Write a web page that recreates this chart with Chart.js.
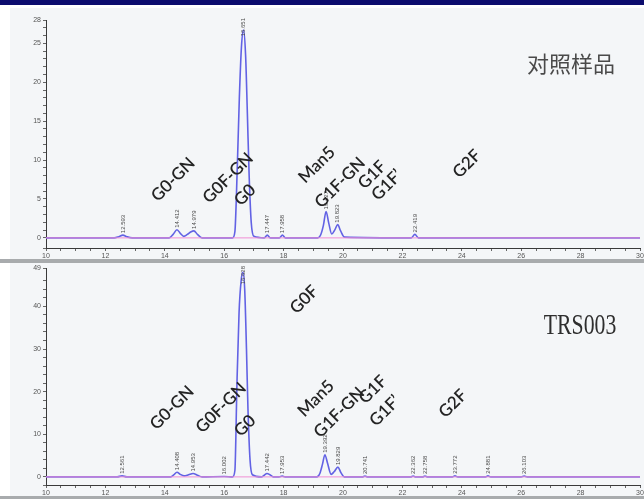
<!DOCTYPE html>
<html>
<head>
<meta charset="utf-8">
<script src="https://cdn.jsdelivr.net/npm/chart.js@4.4.1/dist/chart.umd.min.js"></script>
<style>
  html, body { margin: 0; padding: 0; background: #fff; }
  body { width: 644px; height: 499px; position: relative; overflow: hidden; }
  .bar { position: absolute; left: 0; top: 0; width: 644px; height: 5px; background: #0c0c6e; }
  .panel { position: absolute; left: 10px; width: 634px; background: #f4f6f8; }
  #p1 { top: 8px; height: 251px; }
  #p2 { top: 263px; height: 233px; }
  .rule { position: absolute; left: 0; width: 644px; background: #a8abad; }
  #r1 { top: 259px; height: 4px; }
  #r2 { top: 496px; height: 3px; }
  canvas { position: absolute; left: 0; }
  #topChart { top: 9px; }
  #botChart { top: 262px; }
</style>
</head>
<body>
<div class="bar"></div>
<div class="panel" id="p1"></div>
<div class="rule" id="r1"></div>
<div class="panel" id="p2"></div>
<div class="rule" id="r2"></div>
<canvas id="topChart" width="644" height="250"></canvas>
<canvas id="botChart" width="644" height="237"></canvas>
<script>
// retention time axis (min)
const timeMin = 10;
const timeMax = 30;

// top trace: reference sample
const topTime   = [10, 12.3, 12.45, 12.59, 12.72, 12.9, 14.15, 14.28, 14.41, 14.53, 14.64, 14.76, 14.87, 14.98, 15.1, 15.25,
                   16.28, 16.36, 16.44, 16.51, 16.58, 16.65, 16.72, 16.78, 16.84, 16.91, 17.0, 17.35, 17.45, 17.55, 17.86, 17.96, 18.06,
                   19.15, 19.25, 19.34, 19.43, 19.52, 19.62, 19.72, 19.82, 19.92, 20.05, 22.3, 22.42, 22.54, 30];
const topSignal = [0, 0, 0.15, 0.35, 0.15, 0, 0, 0.45, 1.05, 0.55, 0.2, 0.45, 0.75, 0.9, 0.45, 0,
                   0, 0.8, 9, 18, 24.5, 26.7, 23.5, 16, 8, 2, 0.2, 0, 0.35, 0, 0, 0.35, 0,
                   0, 0.4, 1.6, 3.4, 1.9, 0.5, 1.0, 1.7, 0.9, 0.1, 0, 0.45, 0, 0];
const topPeakTimes = [12.59, 14.41, 14.98, 16.65, 17.45, 17.96, 19.43, 19.82, 22.42];
const topPeakText  = ['12.593', '14.412', '14.979', '16.651', '17.447', '17.958', '19.427', '19.823', '22.419'];
const topGlycans = ['G0-GN', 'G0F-GN', 'G0', 'Man5', 'G1F-GN', 'G1F', 'G1F\u2019', 'G2F'];
const topGlycanT = [14.28, 16.13, 16.70, 19.12, 19.90, 20.98, 21.48, 24.17];
const topGlycanV = [7.5, 7.7, 5.5, 9.4, 7.1, 8.1, 6.8, 9.5];
const topYMin = -1.3, topYMax = 28;

// bottom trace: TRS003
const botTime   = [10, 12.4, 12.56, 12.72, 14.2, 14.3, 14.41, 14.52, 14.65, 14.8, 14.95, 15.1, 15.25, 16.0,
                   16.28, 16.36, 16.43, 16.5, 16.57, 16.63, 16.69, 16.75, 16.8, 16.87, 16.95,
                   17.25, 17.35, 17.44, 17.54, 17.65, 17.85, 17.95, 18.05,
                   19.12, 19.22, 19.31, 19.39, 19.48, 19.6, 19.7, 19.83, 19.93, 20.05,
                   20.65, 20.74, 20.83, 22.28, 22.36, 22.45, 22.68, 22.76, 22.85, 23.68, 23.77, 23.86,
                   24.8, 24.88, 24.97, 26.0, 26.1, 26.2, 30];
const botSignal = [0, 0, 0.25, 0, 0, 0.45, 1.1, 0.6, 0.25, 0.5, 0.8, 0.4, 0, 0.1,
                   0, 1.5, 22, 38.5, 46, 48, 44, 30, 16, 4, 0.5,
                   0, 0.4, 0.8, 0.5, 0, 0, 0.2, 0,
                   0, 0.8, 3, 5.2, 3.2, 0.6, 1.2, 2.3, 1.0, 0,
                   0, 0.2, 0, 0, 0.2, 0, 0, 0.2, 0, 0, 0.25, 0,
                   0, 0.25, 0, 0, 0.2, 0, 0];
const botPeakTimes = [12.56, 14.41, 14.95, 16.0, 16.63, 17.44, 17.95, 19.39, 19.83, 20.74, 22.36, 22.76, 23.77, 24.88, 26.1];
const botPeakText  = ['12.561', '14.408', '14.953', '16.002', '16.628', '17.442', '17.953', '19.392', '19.829',
                      '20.741', '22.362', '22.758', '23.772', '24.881', '26.103'];
const botGlycans = ['G0F', 'G0-GN', 'G0F-GN', 'G0', 'Man5', 'G1F-GN', 'G1F', 'G1F\u2019', 'G2F'];
const botGlycanT = [18.69, 14.24, 15.89, 16.70, 19.09, 19.87, 21.01, 21.41, 23.70];
const botGlycanV = [41.6, 16.2, 16.2, 12.0, 18.4, 15.1, 20.5, 15.5, 17.2];
const botYMin = -1.9, botYMax = 49;

// draws peak labels, glycan names and the sample title on top of the trace
const textPlugin = {
  id: 'chromText',
  afterDatasetsDraw(chart, args, o) {
    const { ctx, chartArea } = chart;
    const x = chart.scales.x, y = chart.scales.y;
    ctx.save();

    ctx.fillStyle = '#4a4a4a';
    ctx.font = '6px "Liberation Sans"';
    ctx.textAlign = 'left';
    ctx.textBaseline = 'middle';
    o.peakTimes.forEach((t, i) => {
      const k = o.times.indexOf(t);
      const h = k >= 0 ? o.signal[k] : 0;
      const w = ctx.measureText(o.peakText[i]).width;
      let py = y.getPixelForValue(h) - 2;
      if (py - w < chartArea.top - 2) py = chartArea.top - 2 + w;
      ctx.save();
      ctx.translate(x.getPixelForValue(t), py);
      ctx.rotate(-Math.PI / 2);
      ctx.fillText(o.peakText[i], 0, 0);
      ctx.restore();
    });

    ctx.fillStyle = '#242424';
    ctx.font = '600 17px Lato';
    ctx.textAlign = 'center';
    o.names.forEach((n, i) => {
      ctx.save();
      ctx.translate(x.getPixelForValue(o.nameT[i]), y.getPixelForValue(o.nameV[i]));
      ctx.rotate(-Math.PI / 4);
      ctx.fillText(n, 0, 0);
      ctx.restore();
    });

    ctx.fillStyle = o.titleColor;
    ctx.font = o.titleFont;
    ctx.save();
    ctx.translate(x.getPixelForValue(o.titleT), y.getPixelForValue(o.titleV));
    ctx.scale(o.titleScale, 1);
    ctx.fillText(o.title, 0, 0);
    ctx.restore();

    ctx.restore();
  }
};

function makeChart(id, d) {
  const evenLabel = v => (Math.abs(v % 2) < 1e-9 ? String(v) : '');
  return new Chart(document.getElementById(id), {
    type: 'line',
    data: {
      datasets: [
        // integration baseline, listed first so it sits on top
        {
          data: [{ x: timeMin, y: 0 }, { x: timeMax, y: 0 }],
          borderColor: '#f08ed4', borderWidth: 1, pointRadius: 0
        },
        {
          data: d.times.map((t, i) => ({ x: t, y: d.signal[i] })),
          borderColor: '#6262e4', borderWidth: 1.6, pointRadius: 0,
          cubicInterpolationMode: 'monotone', fill: false
        }
      ]
    },
    options: {
      responsive: false, animation: false, devicePixelRatio: 1,
      layout: { padding: { top: d.padTop, right: 4, left: 0, bottom: 0 } },
      plugins: {
        legend: { display: false }, tooltip: { enabled: false },
        chromText: {
          times: d.times, signal: d.signal, peakTimes: d.peakTimes, peakText: d.peakText,
          names: d.names, nameT: d.nameT, nameV: d.nameV,
          title: d.title, titleT: d.titleT, titleV: d.titleV, titleFont: d.titleFont,
          titleScale: d.titleScale, titleColor: d.titleColor
        }
      },
      scales: {
        x: {
          type: 'linear', min: timeMin, max: timeMax,
          grid: { drawOnChartArea: false, drawTicks: true, tickLength: 3, color: '#666' },
          border: { color: '#3a3a3a', width: 1 },
          ticks: { stepSize: 0.5, autoSkip: false, maxRotation: 0, padding: 1,
                   font: { size: 7, family: 'Liberation Sans' }, color: '#555', callback: evenLabel },
          afterFit(s) { s.height = d.xHeight; s.paddingLeft = 0; s.paddingRight = 0; }
        },
        y: {
          min: d.yMin, max: d.yMax,
          grid: { drawOnChartArea: false, drawTicks: true, tickLength: 3, color: '#666' },
          border: { color: '#3a3a3a', width: 1 },
          ticks: { stepSize: d.yStep, autoSkip: false, padding: 2,
                   font: { size: 7, family: 'Liberation Sans' }, color: '#555',
                   callback: v => (Math.abs(v % d.yMajor) < 1e-9 && v >= 0) || v === d.yMax ? String(v) : '' },
          afterFit(s) { s.width = 46; s.paddingTop = 0; s.paddingBottom = 0; }
        }
      }
    },
    plugins: [textPlugin]
  });
}

makeChart('topChart', {
  times: topTime, signal: topSignal, peakTimes: topPeakTimes, peakText: topPeakText,
  names: topGlycans, nameT: topGlycanT, nameV: topGlycanV,
  title: '对照样品', titleT: 27.68, titleV: 22.4, titleFont: '22px "Noto Sans CJK SC"',
  titleScale: 1, titleColor: '#4a4a4a',
  yMin: topYMin, yMax: topYMax, yStep: 1, yMajor: 5, padTop: 11, xHeight: 11
});

makeChart('botChart', {
  times: botTime, signal: botSignal, peakTimes: botPeakTimes, peakText: botPeakText,
  names: botGlycans, nameT: botGlycanT, nameV: botGlycanV,
  title: 'TRS003', titleT: 27.98, titleV: 35.2, titleFont: '29px "Liberation Serif"',
  titleScale: 0.75, titleColor: '#2e2e2e',
  yMin: botYMin, yMax: botYMax, yStep: 2, yMajor: 10, padTop: 6, xHeight: 14
});
</script>
</body>
</html>
